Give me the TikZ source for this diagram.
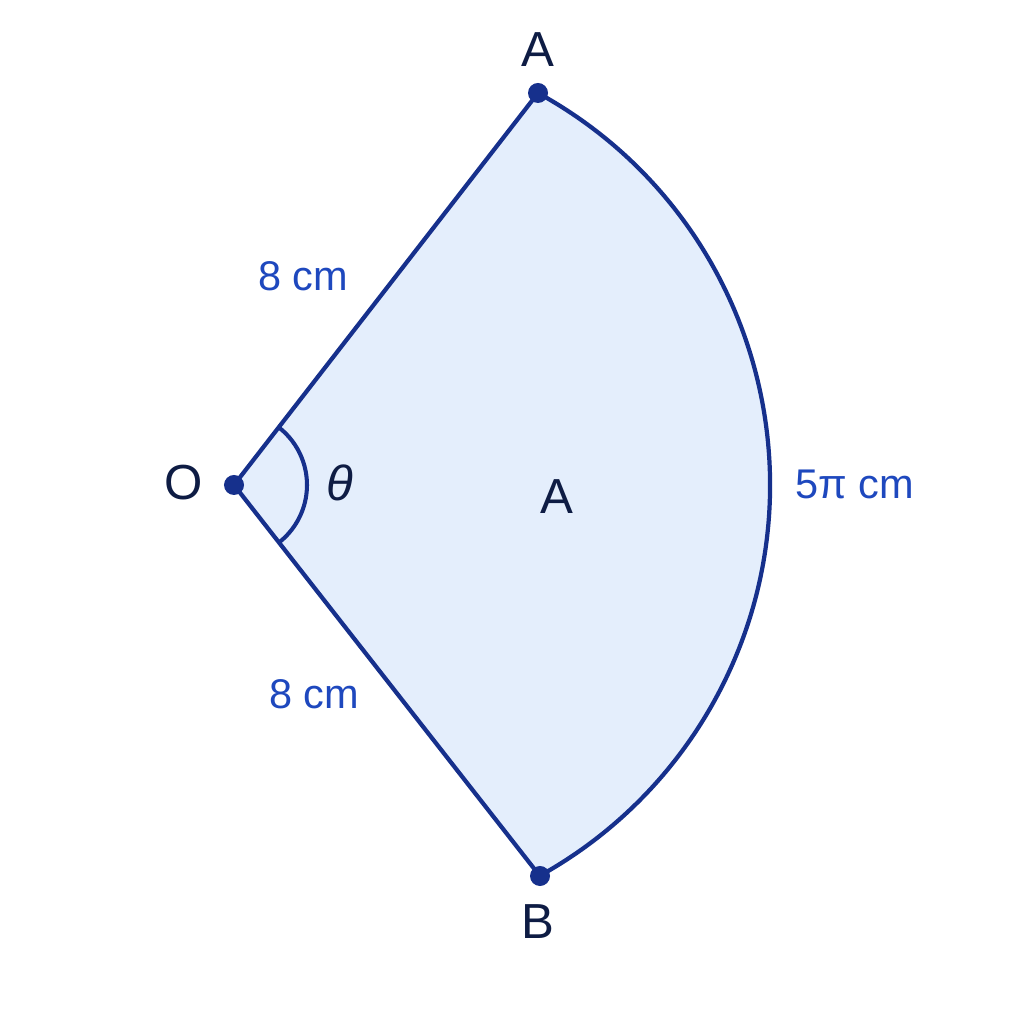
\documentclass[tikz,border=0pt]{standalone}
\usepackage{fontspec}
\setmainfont{Liberation Sans}
\usetikzlibrary{calc}
\definecolor{edge_blue}{RGB}{22,48,140}
\definecolor{fill_blue}{RGB}{228,238,252}
\definecolor{label_blue}{RGB}{30,72,190}
\definecolor{text_navy}{RGB}{14,28,68}

\begin{document}
\begin{tikzpicture}[x=0.01cm,y=0.01cm,line join=round]
    \tikzstyle{pt}=[circle, fill=edge_blue, inner sep=0pt, minimum size=0.2cm]
    \tikzstyle{ptlabel}=[text=text_navy, font=\fontsize{14}{16}\selectfont]
    \tikzstyle{len}=[text=label_blue, font=\fontsize{11.8}{13}\selectfont]

    \useasboundingbox[fill=white] (0,0) rectangle (1024,1024);

    \coordinate (O) at (234,539);
    \coordinate (A) at (538,931);
    \coordinate (B) at (540,148);

    % sector
    \path[fill=fill_blue, draw=edge_blue, line width=1.2pt]
     (O) -- (A) arc[start angle=61.25, end angle=-61, radius=447] -- cycle;
    % angle mark
    \draw[edge_blue, line width=1.15pt] ($(O)+(52.2:73)$) arc[start angle=52.2, end angle=-51.9, radius=73];

    \node[pt] (o) at (O) {};
    \node[pt] (a) at (A) {};
    \node[pt] (b) at (B) {};

    \node[ptlabel] (lo) at (184,541) {O};
    \node[ptlabel] (la) at (538,974) {A};
    \node[ptlabel] (lb) at (538,102) {B};
    \node[ptlabel] (lc) at (557,527) {A};
    \node[ptlabel] (th) at (340,541) {\itshape θ};
    \node[len] (r1) at (303,748) {8 cm};
    \node[len] (r2) at (314,330) {8 cm};
    \node[len] (s) at (855,540) {5π cm};
\end{tikzpicture}
\end{document}
